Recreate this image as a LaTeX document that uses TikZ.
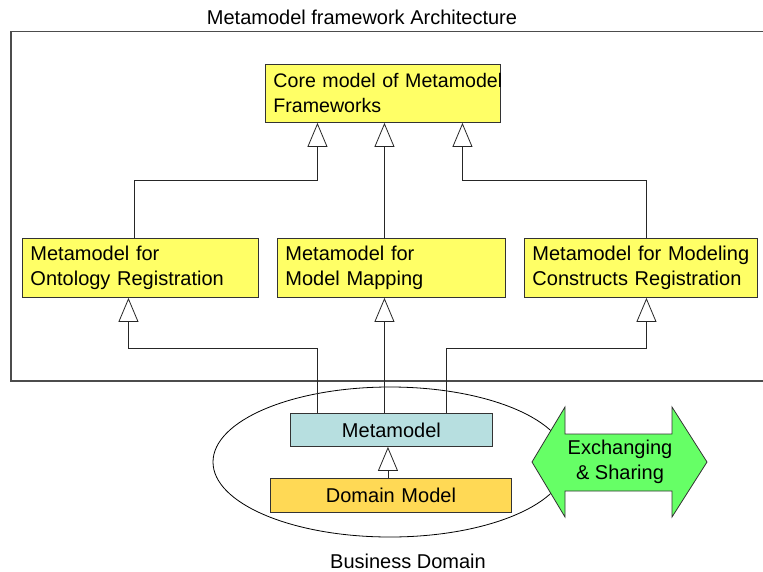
\documentclass[tikz,border=0pt]{standalone}
\usepackage{fontspec}
\setmainfont{Liberation Sans}
\usepackage{tikz}
\usetikzlibrary{shapes.geometric, arrows.meta, positioning}
\definecolor{boxyellow}{HTML}{FFFF66}
\definecolor{metacyan}{HTML}{B7DFE0}
\definecolor{domgold}{HTML}{FFD955}
\definecolor{xgreen}{HTML}{66FF66}
\tikzstyle{lbl} = [font=\fontsize{20}{25}\selectfont]
\tikzstyle{umlbox} = [rectangle, lbl, draw=black!80, line width=0.9pt, fill=boxyellow, align=left, inner xsep=8pt, inner ysep=0pt, anchor=north west]
\tikzstyle{inherit} = [line width=0.8pt, draw=black!85, -{Triangle[width=20pt, length=24pt, fill=white]}]

\begin{document}
\begin{tikzpicture}[x=1pt, y=-1pt]
                                \useasboundingbox (0,0) rectangle (763,571);
                                % framework frame and title
                                \draw [line width=1.3pt, draw=black!70] (11,31.5) rectangle (780,381);
                                \node (archtitle) [lbl] at (362,17) {Metamodel framework Architecture};
                                % metamodel boxes
                                \node (core) [umlbox, font=\fontsize{19.6}{25}\selectfont, text width=219pt, minimum height=58pt] at (265,64) {\mbox{Core model of Metamodel}\\Frameworks};
                                \node (onto) [umlbox, text width=220pt, minimum height=59pt] at (22,238) {Metamodel for\\Ontology Registration};
                                \node (map) [umlbox, text width=212pt, minimum height=59pt] at (277,238) {Metamodel for\\Model Mapping};
                                \node (reg) [umlbox, text width=217pt, minimum height=59pt] at (524,238) {\mbox{Metamodel for Modeling}\\\mbox{Constructs Registration}};
                                % business domain
                                \node (bizdom) [ellipse, draw, line width=0.8pt, minimum width=354pt, minimum height=150pt] at (390,462) {};
                                \node (meta) [umlbox, fill=metacyan, align=center, text width=186pt, minimum height=33pt] at (290,413) {Metamodel};
                                \node (dom) [umlbox, fill=domgold, align=center, text width=225pt, minimum height=34pt] at (270,478) {Domain Model};
                                \node (bizlabel) [lbl] at (408,561) {Business Domain};
                                % exchanging arrow
                                \draw [fill=xgreen, draw=black!80, line width=0.8pt] (532,462) -- (565,407) -- (565,434) -- (672,434) -- (672,407) -- (707,462) -- (672,517) -- (672,491) -- (565,491) -- (565,517) -- cycle;
                                \node (xchg) [lbl, align=center] at (620,462) {Exchanging\\ \& Sharing};
                                % generalisations
                                \draw [inherit] ([xshift=-6pt]onto.north) -- ++(0,-58) -| ([xshift=-65.5pt]core.south);
                                \draw [inherit] ([xshift=-7pt]map.north) -- ([xshift=-7pt]map.north |- core.south);
                                \draw [inherit] ([xshift=5.5pt]reg.north) -- ++(0,-58) -| ([xshift=79.5pt]core.south);
                                \draw [inherit] ([xshift=-74pt]meta.north) -- ++(0,-65) -| ([xshift=-12pt]onto.south);
                                \draw [inherit] ([xshift=-7pt]meta.north) -- ([xshift=-7pt]meta.north |- map.south);
                                \draw [inherit] ([xshift=55pt]meta.north) -- ++(0,-65) -| ([xshift=5.5pt]reg.south);
                                \draw [inherit] ([xshift=-3pt]dom.north) -- ([xshift=-3pt]dom.north |- meta.south);
                            \end{tikzpicture}
\end{document}
